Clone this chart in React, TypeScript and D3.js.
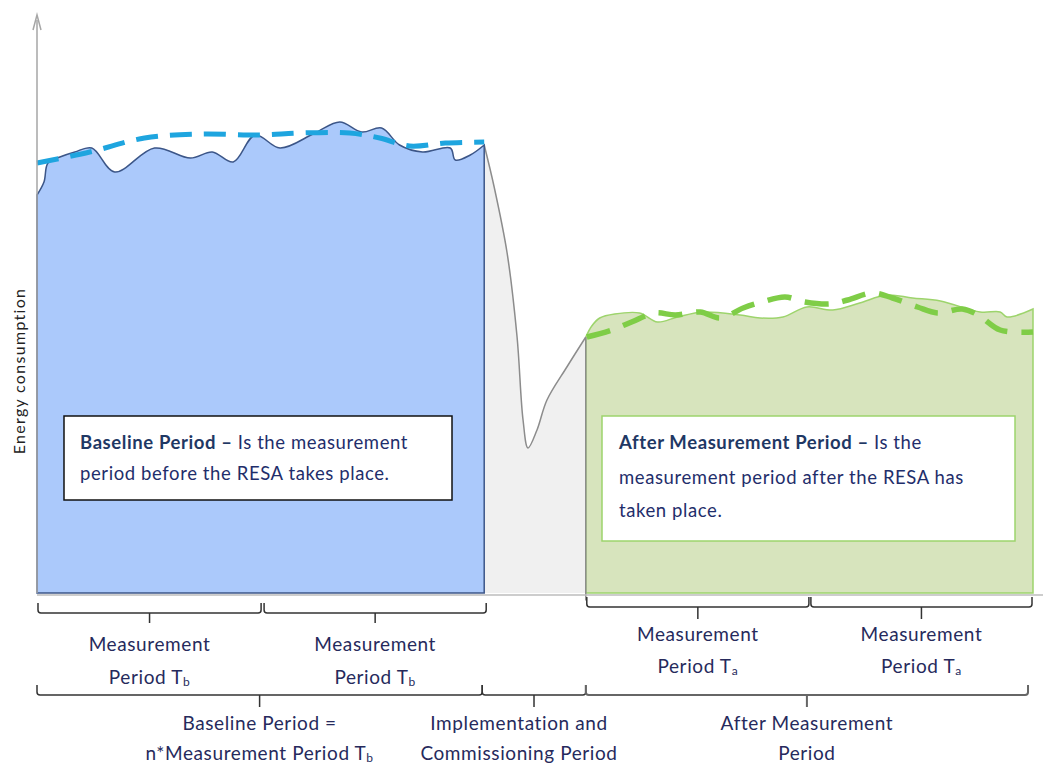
import * as d3 from 'd3';

const W = 1043;
const H = 767;

// time (0..100) and energy (0..100) in arbitrary units
const baselineT = [0, 0.7, 1.1, 2.3, 3.8, 5.5, 7.8, 11.8, 15.4, 17.6, 19.7, 21.9, 24.4, 27.9, 30.4, 32.6, 34.6, 36.4, 38.7, 41.5, 42.0, 43.5, 44.9];
const baselineE = [79.6, 82.2, 86, 87.2, 88.2, 89, 84.2, 89, 87, 88.2, 86.2, 91.6, 89, 92, 94.2, 92.2, 93, 89.6, 88.2, 89, 86.6, 87.6, 89.6];

const baselineTrendT = [0, 5.3, 10.8, 16.4, 22.4, 26.4, 31.4, 34.4, 37.4, 41, 44.9];
const baselineTrendE = [86, 88.2, 91, 91.8, 91.6, 92, 92, 91, 89.4, 90, 90.2];

const transitionT = [44.9, 45.9, 47.2, 48.2, 48.8, 49.3, 50.2, 51.2, 53.2, 55.1];
const transitionE = [89.6, 81.2, 68, 51.2, 34.6, 29, 32.6, 38.6, 45.2, 51.2];

const afterT = [55.1, 55.7, 56.5, 58, 60.5, 62.3, 64.3, 66.9, 70.6, 72.6, 74.9, 77.3, 79.9, 82.6, 85.3, 87.9, 90.7, 94.7, 96.7, 97.4, 100];
const afterE = [51.2, 53.4, 55, 55.8, 56, 54.2, 55.2, 56.2, 55.6, 55, 55.2, 57.2, 56.6, 58, 59.6, 59, 58.4, 56.2, 56.2, 55.2, 56.8];

const afterTrendT = [55.2, 57.7, 59.7, 62.0, 64.1, 66.6, 68.6, 70.9, 72.8, 75.1, 77.1, 79.6, 81.4, 83.9, 85.9, 88.4, 90.4, 92.9, 94.5, 96.7, 100];
const afterTrendE = [51.2, 52.6, 54.2, 56, 55.6, 56.2, 55, 57, 58.2, 59.2, 58.2, 57.8, 58.6, 60, 59, 57.2, 56, 56.8, 55.6, 52.6, 52.2];

const baselineMeasurement = [[0.1, 22.5], [22.8, 45.1]];
const afterMeasurement = [[55.2, 77.5], [77.7, 99.9]];
const phases = [[0, 44.7], [44.7, 55.1], [55.1, 99.5]];
const phaseLabels = [
  ['Baseline Period =', 'n*Measurement Period T', 'b'],
  ['Implementation and', 'Commissioning Period', ''],
  ['After Measurement', 'Period', ''],
];

const font = 'Lato, "Open Sans", sans-serif';
const labelColor = '#262a5c';

const x = d3.scaleLinear().domain([0, 100]).range([37, 1033]);
const y = d3.scaleLinear().domain([0, 100]).range([593, 93]);

const zip = (t: number[], e: number[]) => t.map((v, i) => [v, e[i]] as [number, number]);

const curve = d3.curveCatmullRom.alpha(0.5);
const line = d3.line<[number, number]>().x(d => x(d[0])).y(d => y(d[1])).curve(curve);
const area = d3.area<[number, number]>().x(d => x(d[0])).y0(y(0)).y1(d => y(d[1])).curve(curve);

function brace(x0: number, x1: number, top: number, h: number, tick: number) {
  const r = 3;
  const mid = (x0 + x1) / 2;
  return `M${x0},${top} L${x0},${h - r} Q${x0},${h} ${x0 + r},${h} L${x1 - r},${h} Q${x1},${h} ${x1},${h - r} L${x1},${top} M${mid},${h} L${mid},${tick}`;
}

function TwoLine({ cx, y1, y2, a, b, sub }: { cx: number; y1: number; y2: number; a: string; b: string; sub: string }) {
  return (
    <g fontFamily={font} fontSize={19} fill={labelColor} textAnchor="middle" letterSpacing={0.6}>
      <text x={cx} y={y1}>{a}</text>
      <text x={cx} y={y2}>
        {b}
        {sub && <tspan fontSize={12} dy={2}>{sub}</tspan>}
      </text>
    </g>
  );
}

const boxText = { fontFamily: font, fontSize: 18.5, fill: '#1f2e6b', letterSpacing: 0.6 };

export default function App() {
  const base = zip(baselineT, baselineE);
  const trans = zip(transitionT, transitionE);
  const after = zip(afterT, afterE);

  return (
    <svg width={W} height={H} style={{ position: 'absolute', left: 0, top: 0, background: '#fff' }}>
      {/* transition area */}
      <path d={area(trans) || ''} fill="#f0f0f0" />
      <path d={line(trans) || ''} fill="none" stroke="#8c8c8c" strokeWidth={1.5} />

      {/* baseline area */}
      <path d={area(base) || ''} fill="#abc9fb" stroke="#3c5688" strokeWidth={1.5} />

      {/* after area */}
      <path d={area(after) || ''} fill="#d7e4bd" stroke="#9dd46c" strokeWidth={1.5} />
      <line x1={x(55.1)} x2={x(55.1)} y1={y(51.2)} y2={y(-1.5)} stroke="#8c8c8c" strokeWidth={1.5} />

      {/* trend lines */}
      <path d={line(zip(baselineTrendT, baselineTrendE)) || ''} fill="none" stroke="#1ea5df" strokeWidth={5} strokeDasharray="22 12" />
      <path d={line(zip(afterTrendT, afterTrendE)) || ''} fill="none" stroke="#7fcd47" strokeWidth={5.5} strokeDasharray="24 14" />

      {/* axes */}
      <line x1={x(0)} x2={x(0)} y1={y(0)} y2={y(114.6)} stroke="#a6a6a6" strokeWidth={1.5} />
      <path d={`M${x(0) - 4},${y(112.6)} L${x(0)},${y(115.6)} L${x(0) + 4},${y(112.6)}`} fill="none" stroke="#a6a6a6" strokeWidth={1.5} />
      <line x1={x(0)} x2={W} y1={y(-0.4)} y2={y(-0.4)} stroke="#bdbdbd" strokeWidth={1.5} />
      <text transform={`translate(25,${y(44.4)}) rotate(-90)`} textAnchor="middle" fontFamily={font} fontSize={16} fill="#222" letterSpacing={1.3}>Energy consumption</text>

      {/* text boxes */}
      <rect x={64} y={416} width={388} height={84} fill="#fff" stroke="#111" strokeWidth={1.5} />
      <text x={80} y={449} {...boxText}>
        <tspan fontWeight={700} fill="#1f3864">Baseline Period – </tspan>Is the measurement
      </text>
      <text x={80} y={480} {...boxText}>period before the RESA takes place.</text>

      <rect x={602} y={416} width={413} height={125} fill="#fff" stroke="#9dd46c" strokeWidth={1.5} />
      <text x={619} y={449} {...boxText}>
        <tspan fontWeight={700} fill="#1f3864">After Measurement Period – </tspan>Is the
      </text>
      <text x={619} y={484} {...boxText}>measurement period after the RESA has</text>
      <text x={619} y={517} {...boxText}>taken place.</text>

      {/* measurement period braces */}
      {baselineMeasurement.map(([a, b], i) => (
        <g key={'bm' + i}>
          <path d={brace(x(a), x(b), 603, 613, 623)} fill="none" stroke="#333" strokeWidth={1.5} />
          <TwoLine cx={x((a + b) / 2)} y1={651} y2={684} a="Measurement" b="Period T" sub="b" />
        </g>
      ))}
      {afterMeasurement.map(([a, b], i) => (
        <g key={'am' + i}>
          <path d={brace(x(a), x(b), 597, 607, 619)} fill="none" stroke="#333" strokeWidth={1.5} />
          <TwoLine cx={x((a + b) / 2)} y1={641} y2={673} a="Measurement" b="Period T" sub="a" />
        </g>
      ))}

      {/* phase braces */}
      {phases.map(([a, b], i) => (
        <g key={'ph' + i}>
          <path d={brace(x(a), x(b), 685, 695, 707)} fill="none" stroke={i === 2 ? '#666' : '#333'} strokeWidth={i === 2 ? 2 : 1.5} />
          <TwoLine cx={x((a + b) / 2) + (i === 1 ? -15 : 0)} y1={730} y2={760} a={phaseLabels[i][0]} b={phaseLabels[i][1]} sub={phaseLabels[i][2]} />
        </g>
      ))}
    </svg>
  );
}
